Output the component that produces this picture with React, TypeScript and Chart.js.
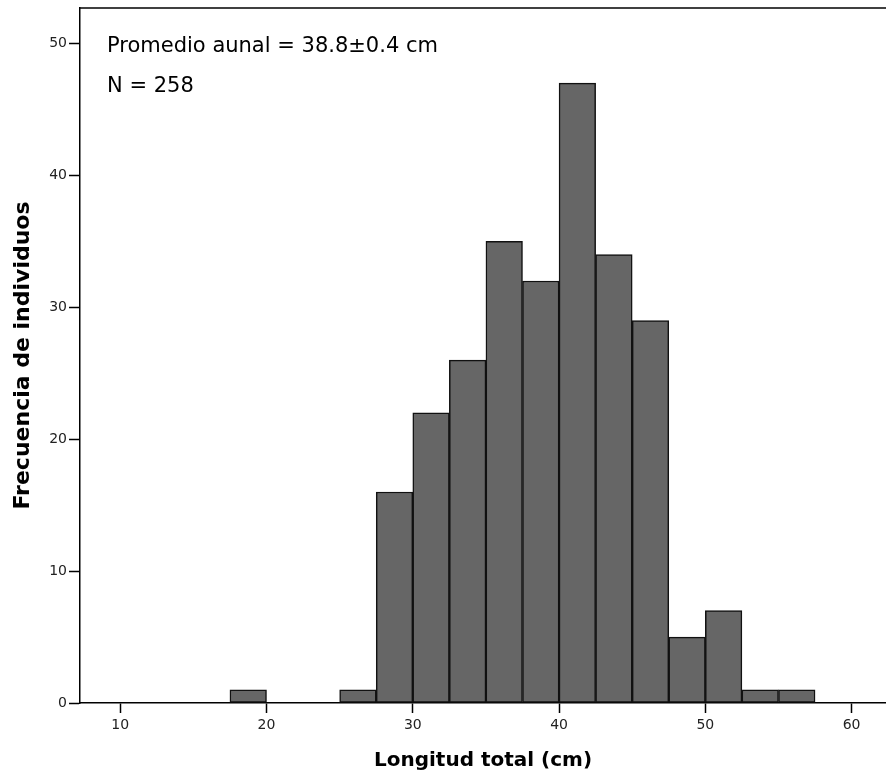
import React, { useEffect, useRef } from "react";
import { Chart, registerables } from "chart.js";

Chart.register(...registerables);

const binCenters = [18.75, 26.25, 28.75, 31.25, 33.75, 36.25, 38.75, 41.25, 43.75, 46.25, 48.75, 51.25, 53.75, 56.25];
const frequencies = [1, 1, 16, 22, 26, 35, 32, 47, 34, 29, 5, 7, 1, 1];
const xTicks = [10, 20, 30, 40, 50, 60];
const yTicks = [0, 10, 20, 30, 40, 50];
const annotationLines = ["Promedio aunal = 38.8\u00b10.4 cm", "N = 258"];
const xTitle = "Longitud total (cm)";
const yTitle = "Frecuencia de individuos";

const FONT = "'DejaVu Sans', sans-serif";

const frameAndText = {
  id: "frameAndText",
  afterDraw(chart: any) {
    const { ctx, chartArea } = chart;
    ctx.save();
    ctx.strokeStyle = "#000";
    ctx.lineWidth = 1.5;
    ctx.beginPath();
    ctx.moveTo(chartArea.left, chartArea.top);
    ctx.lineTo(chartArea.right, chartArea.top);
    ctx.stroke();
    ctx.fillStyle = "#000";
    ctx.font = `21px ${FONT}`;
    ctx.textBaseline = "alphabetic";
    ctx.textAlign = "left";
    annotationLines.forEach((t, i) => {
      ctx.fillText(t, chartArea.left + 27, chartArea.top + 44 + i * 40);
    });
    ctx.restore();
  },
};

export default function App() {
  const ref = useRef<HTMLCanvasElement | null>(null);
  useEffect(() => {
    if (!ref.current) return;
    const chart = new Chart(ref.current, {
      type: "bar",
      data: {
        datasets: [
          {
            data: binCenters.map((x, i) => ({ x, y: frequencies[i] })),
            backgroundColor: "#666666",
            borderColor: "#111111",
            borderWidth: 1.5,
            barPercentage: 1,
            categoryPercentage: 1,
            borderSkipped: false,
          },
        ],
      },
      options: {
        animation: false,
        responsive: true,
        maintainAspectRatio: false,
        layout: { padding: { left: 0, right: 0, top: 0, bottom: 0 } },
        plugins: { legend: { display: false }, tooltip: { enabled: false } },
        scales: {
          x: {
            type: "linear",
            min: 7.25,
            max: 62.35,
            offset: false,
            afterBuildTicks: (scale: any) => {
              scale.ticks = xTicks.map((v) => ({ value: v }));
            },
            afterFit: (scale: any) => {
              scale.height = 76;
            },
            grid: {
              offset: false,
              drawOnChartArea: false,
              drawTicks: true,
              tickLength: 10,
              tickWidth: 1.5,
              tickColor: "#000",
            },
            border: { display: true, color: "#000", width: 1.5 },
            ticks: {
              color: "#222",
              font: { family: FONT, size: 14 },
              padding: 4,
              maxRotation: 0,
              autoSkip: false,
            },
            title: {
              display: true,
              text: xTitle,
              color: "#000",
              font: { family: FONT, size: 20, weight: "bold" },
              padding: { top: 0, bottom: 6 },
            },
          },
          y: {
            type: "linear",
            min: 0,
            max: 52.7,
            afterBuildTicks: (scale: any) => {
              scale.ticks = yTicks.map((v) => ({ value: v }));
            },
            afterFit: (scale: any) => {
              scale.width = 80;
              scale.paddingTop = 8;
            },
            grid: {
              drawOnChartArea: false,
              drawTicks: true,
              tickLength: 11,
              tickWidth: 1.5,
              tickColor: "#000",
            },
            border: { display: true, color: "#000", width: 1.5 },
            ticks: {
              color: "#222",
              font: { family: FONT, size: 14, lineHeight: 1 },
              padding: 2,
              autoSkip: false,
            },
            title: {
              display: true,
              text: yTitle,
              color: "#000",
              font: { family: FONT, size: 22, weight: "bold" },
              padding: { top: 10, bottom: 0 },
            },
          },
        },
      },
      plugins: [frameAndText],
    } as any);
    return () => chart.destroy();
  }, []);
  return (
    <div style={{ position: "fixed", left: 0, top: 0, width: 886, height: 779, background: "#fff" }}>
      <canvas ref={ref} />
    </div>
  );
}
